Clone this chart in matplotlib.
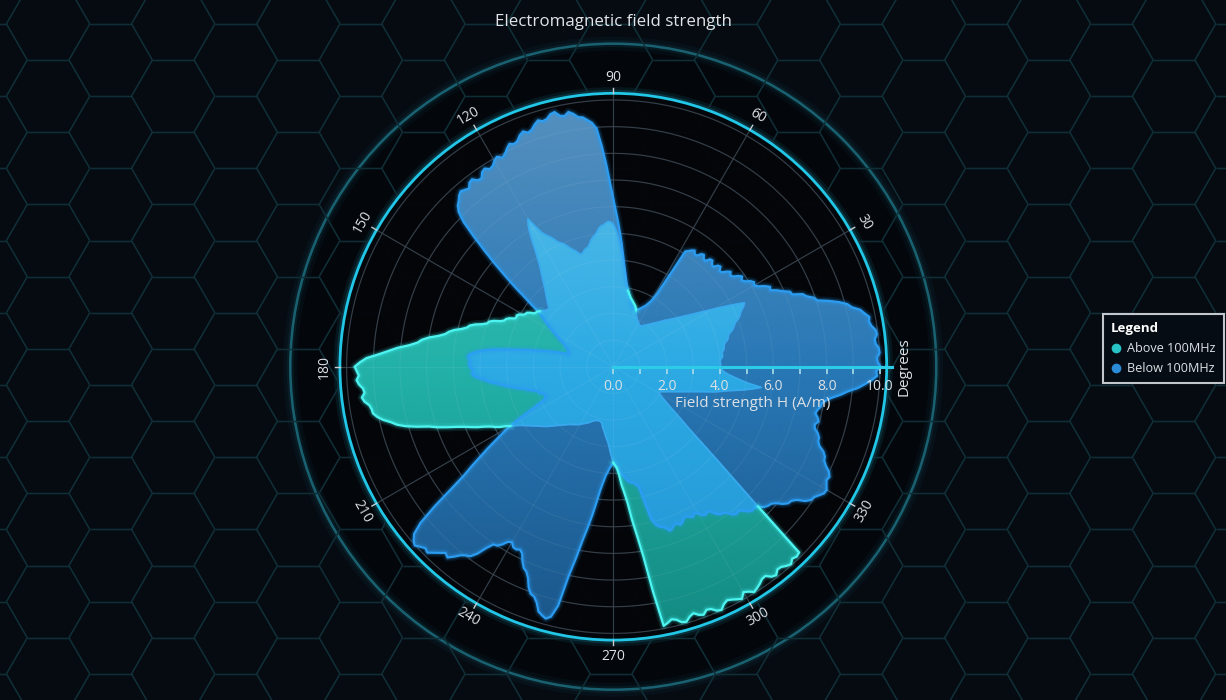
import numpy as np
import matplotlib
matplotlib.use("Agg")
import matplotlib.pyplot as plt
from matplotlib.colors import LinearSegmentedColormap
from matplotlib.collections import LineCollection
from matplotlib.lines import Line2D
from matplotlib.patches import Circle

plt.rcParams['font.family'] = ['Open Sans', 'DejaVu Sans']

# ---------------- data ----------------
TITLE = "Electromagnetic field strength"
SERIES_NAMES = ["Above 100MHz", "Below 100MHz"]
ANGLES_DEG = list(range(0, 360, 1))

ABOVE = [
    4.0, 4.03, 4.02, 4.01, 4.04, 4.1, 4.12, 4.11, 4.14, 4.2,                # 0
    4.22, 4.23, 4.28, 4.38, 4.44, 4.46, 4.53, 4.66, 4.74, 4.8,              # 10
    4.88, 5.02, 5.12, 5.18, 5.28, 5.4, 5.47, 5.15, 4.87, 4.58,              # 20
    4.31, 4.06, 3.85, 3.66, 3.5, 3.34, 3.2, 3.07, 2.95, 2.85,               # 30
    2.75, 2.67, 2.6, 2.51, 2.43, 2.36, 2.29, 2.23, 2.17, 2.12,              # 40
    2.07, 2.02, 1.98, 1.94, 1.9, 1.87, 1.84, 1.84, 1.85, 1.87,              # 50
    1.9, 1.92, 1.95, 1.98, 2.02, 2.07, 2.12, 2.2, 2.28, 2.35,               # 60
    2.42, 2.46, 2.5, 2.54, 2.58, 2.63, 2.68, 2.75, 2.82, 2.9,               # 70
    2.98, 3.12, 3.3, 3.52, 3.75, 4.02, 4.3, 4.6, 4.9, 5.14,                 # 80
    5.35, 5.42, 5.45, 5.4, 5.33, 5.3, 5.22, 5.08, 4.98, 4.92,               # 90
    4.82, 4.68, 4.58, 4.55, 4.5, 4.42, 4.38, 4.45, 4.56, 4.64,              # 100
    4.74, 4.86, 4.97, 5.04, 5.13, 5.28, 5.42, 5.54, 5.68, 6.0,              # 110
    6.4, 6.2, 5.9, 5.55, 5.2, 4.95, 4.7, 4.52, 4.35, 4.2,                   # 120
    4.05, 3.92, 3.8, 3.7, 3.6, 3.5, 3.42, 3.32, 3.25, 3.27,                 # 130
    3.3, 3.35, 3.4, 3.45, 3.52, 3.54, 3.58, 3.72, 3.82, 3.84,               # 140
    3.9, 4.04, 4.1, 4.08, 4.12, 4.3, 4.4, 4.44, 4.56, 4.8,                  # 150
    4.95, 5.0, 5.16, 5.42, 5.6, 5.68, 5.86, 6.12, 6.3, 6.42,                # 160
    6.66, 7.0, 7.25, 7.4, 7.7, 8.12, 8.45, 8.82, 9.26, 9.5,                 # 170
    9.7, 9.62, 9.55, 9.64, 9.56, 9.42, 9.38, 9.5, 9.42, 9.26,               # 180
    9.2, 9.18, 9.05, 8.86, 8.6, 8.4, 8.1, 7.7, 7.26, 6.98,                  # 190
    6.64, 6.3, 6.02, 5.8, 5.58, 5.32, 5.12, 4.98, 4.82, 4.6,                # 200
    4.45, 4.3, 4.15, 4.05, 3.95, 3.86, 3.78, 3.7, 3.62, 3.55,               # 210
    3.48, 3.42, 3.35, 3.27, 3.2, 3.14, 3.07, 3.0, 2.95, 2.9,                # 220
    2.85, 2.8, 2.75, 2.71, 2.68, 2.65, 2.62, 2.59, 2.56, 2.53,              # 230
    2.5, 2.46, 2.42, 2.39, 2.36, 2.33, 2.3, 2.26, 2.22, 2.19,               # 240
    2.16, 2.14, 2.12, 2.11, 2.1, 2.1, 2.1, 2.12, 2.14, 2.2,                 # 250
    2.3, 2.37, 2.45, 2.55, 2.65, 2.75, 2.85, 3.0, 3.2, 3.4,                 # 260
    3.6, 3.7, 3.8, 4.05, 4.45, 4.75, 5.15, 5.8, 6.4, 7.2,                   # 270
    8.55, 9.9, 9.82, 9.72, 9.78, 9.92, 9.95, 9.8, 9.72, 9.84,               # 280
    9.9, 9.76, 9.8, 9.94, 9.98, 9.82, 9.74, 9.8, 9.88, 9.95,                # 290
    9.76, 9.84, 9.96, 9.9, 9.82, 9.72, 9.7, 9.86, 9.92, 9.78,               # 300
    9.8, 9.9, 9.96, 9.84, 9.9, 9.85, 7.55, 6.25, 5.3, 4.55,                 # 310
    4.0, 3.58, 3.28, 3.0, 2.76, 2.57, 2.42, 2.28, 2.15, 2.06,               # 320
    1.98, 1.98, 2.0, 2.06, 2.14, 2.22, 2.3, 2.4, 2.5, 2.62,                 # 330
    2.74, 2.88, 3.03, 3.2, 3.4, 3.64, 3.9, 4.12, 4.35, 4.65,                # 340
    5.0, 5.3, 5.6, 5.1, 4.8, 4.55, 4.35, 4.2, 4.1, 4.04,                    # 350
]

BELOW = [
    10.02, 9.92, 9.9, 10.0, 9.98, 9.88, 9.86, 9.96, 9.93, 9.8,              # 0
    9.74, 9.78, 9.63, 9.5, 9.22, 9.08, 8.8, 8.45, 8.05, 7.95,               # 10
    7.72, 7.6, 7.24, 7.2, 6.96, 6.78, 6.55, 6.6, 6.44, 6.22,                # 20
    6.1, 6.16, 6.06, 5.88, 5.8, 5.9, 5.79, 5.62, 5.57, 5.66,                # 30
    5.55, 5.4, 5.36, 5.5, 5.46, 5.3, 5.33, 5.45, 5.42, 5.26,                # 40
    5.28, 5.4, 5.36, 5.22, 5.2, 5.32, 5.26, 5.18, 5.1, 3.2,                 # 50
    2.85, 2.72, 2.6, 2.53, 2.47, 2.41, 2.36, 2.34, 2.33, 2.31,              # 60
    2.3, 2.33, 2.36, 2.4, 2.45, 2.52, 2.6, 2.7, 2.8, 2.92,                  # 70
    3.05, 3.2, 3.4, 3.62, 3.9, 4.22, 4.6, 4.98, 5.4, 5.82,                  # 80
    6.3, 6.9, 7.6, 8.3, 8.95, 9.18, 9.3, 9.42, 9.45, 9.6,                   # 90
    9.7, 9.58, 9.62, 9.8, 9.76, 9.62, 9.58, 9.66, 9.55, 9.4,                # 100
    9.34, 9.45, 9.36, 9.2, 9.14, 9.22, 9.1, 8.95, 8.88, 9.0,                # 110
    8.92, 8.78, 8.74, 8.86, 8.8, 8.62, 8.64, 8.8, 8.76, 8.6,                # 120
    8.66, 8.72, 8.64, 8.5, 8.4, 8.2, 7.8, 7.15, 6.5, 5.9,                   # 130
    5.3, 4.75, 4.2, 3.8, 3.4, 3.24, 3.12, 2.96, 2.83, 2.7,                  # 140
    2.57, 2.46, 2.33, 2.26, 2.17, 2.06, 1.98, 1.96, 1.92, 1.83,             # 150
    1.79, 1.8, 1.77, 1.72, 1.74, 2.0, 2.3, 2.6, 2.92, 3.3,                  # 160
    3.68, 4.15, 4.62, 4.95, 5.22, 5.4, 5.47, 5.42, 5.38, 5.42,              # 170
    5.37, 5.3, 5.28, 5.3, 5.22, 5.02, 4.83, 4.68, 4.47, 4.28,               # 180
    4.13, 3.95, 3.77, 3.62, 3.43, 3.35, 3.22, 3.08, 2.98, 2.97,             # 190
    2.92, 2.82, 2.78, 2.8, 2.76, 2.82, 2.95, 3.25, 3.6, 4.05,               # 200
    4.5, 4.85, 5.2, 5.6, 6.0, 6.45, 6.9, 7.6, 8.5, 9.3,                     # 210
    9.75, 9.92, 10.02, 9.9, 9.8, 9.86, 9.7, 9.55, 9.4, 9.48,                # 220
    9.3, 9.1, 8.98, 8.9, 8.66, 8.3, 8.04, 8.0, 7.86, 7.66,                  # 230
    7.6, 7.74, 7.76, 7.7, 7.8, 8.06, 8.26, 8.35, 8.54, 8.86,                # 240
    9.06, 9.12, 9.3, 9.6, 9.7, 9.78, 9.66, 9.2, 8.0, 7.3,                   # 250
    6.6, 6.1, 5.6, 5.1, 4.65, 4.35, 4.1, 3.95, 3.8, 3.7,                    # 260
    3.62, 3.7, 3.8, 3.92, 4.02, 4.1, 4.18, 4.3, 4.37, 4.4,                  # 270
    4.43, 4.52, 4.6, 5.2, 5.9, 6.12, 6.24, 6.28, 6.36, 6.5,                 # 280
    6.46, 6.36, 6.34, 6.44, 6.38, 6.26, 6.24, 6.32, 6.38, 6.28,             # 290
    6.36, 6.5, 6.54, 6.48, 6.56, 6.74, 6.84, 6.86, 6.96, 7.14,              # 300
    7.2, 7.16, 7.26, 7.42, 7.5, 7.48, 7.56, 7.72, 7.8, 7.84,                # 310
    7.96, 8.18, 8.32, 8.36, 8.5, 8.78, 8.94, 8.98, 9.1, 9.22,               # 320
    9.24, 9.14, 9.06, 9.1, 9.0, 8.8, 8.66, 8.62, 8.5, 8.28,                 # 330
    8.18, 8.16, 8.06, 7.9, 7.86, 7.96, 7.9, 7.78, 7.82, 7.92,               # 340
    7.94, 8.08, 8.3, 8.6, 8.85, 9.2, 9.45, 9.7, 9.9, 9.86,                  # 350
]

RADIAL_MAJOR = [0, 2, 4, 6, 8, 10]
RADIAL_MAJOR_LABELS = ["0.0", "2.0", "4.0", "6.0", "8.0", "10.0"]
RADIAL_MINOR = [1, 3, 5, 7, 9]
RADIAL_GRID = [1, 2, 3, 4, 5, 6, 7, 8, 9, 10]
ANGLE_TICKS = [30, 60, 90, 120, 150, 180, 210, 240, 270, 300, 330]
ANGLE_GRID = [0, 30, 60, 90, 120, 150, 180, 210, 240, 270, 300, 330]
RADIAL_TITLE = "Field strength H (A/m)"
ANGULAR_TITLE = "Degrees"

# ---------------- layout ----------------
W, H = 1226, 700
CX, CY = 613.3, 366.7
PX_PER_UNIT = 26.67
RMAX = 10.25
RPX = RMAX * PX_PER_UNIT

TXT = '#dde1e5'

fig = plt.figure(figsize=(W / 100, H / 100), dpi=100)
fig.patch.set_facecolor('#060b12')

# background with hexagons
bg = fig.add_axes([0, 0, 1, 1])
bg.set_xlim(0, W)
bg.set_ylim(H, 0)
bg.axis('off')
s = 41.7
hh = s * np.sqrt(3)
segs = []
for i in range(-6, 21):
    cx = 298.3 + i * 1.5 * s
    for j in range(-3, 12):
        cy = 96.1 + j * hh + (hh / 2 if i % 2 else 0)
        pts = [(cx + s * np.cos(np.radians(a)), cy + s * np.sin(np.radians(a)))
               for a in range(0, 361, 60)]
        for k in range(6):
            segs.append([pts[k], pts[k + 1]])
bg.add_collection(LineCollection(segs, colors=[(0.065, 0.19, 0.22)], linewidths=1.0, alpha=0.8))
bg.add_patch(Circle((CX, CY), 323, facecolor=(0.01, 0.022, 0.04), alpha=0.75, edgecolor='none'))
for lw, al in [(10, 0.05), (5, 0.10)]:
    bg.add_patch(Circle((CX, CY), 323, fill=False, edgecolor='#1f8da0', lw=lw, alpha=al))
bg.add_patch(Circle((CX, CY), 323, fill=False, edgecolor='#1b6676', lw=1.8, alpha=0.95))
for lw, al in [(9, 0.08), (5, 0.15)]:
    bg.add_patch(Circle((CX, CY), RPX, fill=False, edgecolor='#22c8e8', lw=lw, alpha=al))

# polar axes
rect = [(CX - RPX) / W, (H - CY - RPX) / H, 2 * RPX / W, 2 * RPX / H]
ax = fig.add_axes(rect, projection='polar')
ax.set_facecolor((0.01, 0.02, 0.035, 0.93))
ax.grid(False)
ax.set_xticks([])
ax.set_yticks([])
ax.spines['polar'].set_color('#22c6e6')
ax.spines['polar'].set_linewidth(2.0)

theta = np.deg2rad(np.array(ANGLES_DEG, dtype=float))
A = np.array(ABOVE, dtype=float)
B = np.array(BELOW, dtype=float)
S = np.minimum(A, B)

th_fine = np.linspace(0, 2 * np.pi, 721)
for r in RADIAL_GRID:
    ax.plot(th_fine, np.full_like(th_fine, r), color='#28323c', lw=0.9, zorder=1)
for a in ANGLE_GRID:
    ax.plot([np.radians(a)] * 2, [0, RMAX], color='#28323c', lw=0.9, zorder=1)

th_g = np.linspace(0, 2 * np.pi, 241)
r_g = np.linspace(0, 10.4, 70)
TH, RR = np.meshgrid(th_g, r_g)
YY = RR * np.sin(TH)

cmapB = LinearSegmentedColormap.from_list('b', [(0, '#1a5689'), (0.5, '#2878b6'), (1, '#5690be')])
cmapA = LinearSegmentedColormap.from_list('a', [(0, '#138a82'), (0.5, '#22b1a8'), (1, '#46c4bb')])
cmapS = LinearSegmentedColormap.from_list('s', [(0, '#2293d2'), (0.5, '#2caae4'), (1, '#5fc0e8')])


def grad_fill(r, cmap, z):
    poly = ax.fill(theta, r, facecolor='none', edgecolor='none', zorder=z)[0]
    mesh = ax.pcolormesh(TH, RR, YY, cmap=cmap, vmin=-10, vmax=10,
                         shading='gouraud', zorder=z)
    mesh.set_clip_path(poly)


grad_fill(B, cmapB, 2)
grad_fill(A, cmapA, 3)
grad_fill(S, cmapS, 4)

for r in RADIAL_GRID:
    ax.plot(th_fine, np.full_like(th_fine, r), color='white', lw=0.8, alpha=0.06, zorder=5)
for a in ANGLE_GRID:
    ax.plot([np.radians(a)] * 2, [0, RMAX], color='white', lw=0.8, alpha=0.06, zorder=5)


def closed(v):
    return np.append(v, v[0])


thc = closed(theta)
for lw, al in [(6, 0.10), (3.5, 0.22)]:
    ax.plot(thc, closed(B), color='#2a9df4', lw=lw, alpha=al, zorder=6, solid_joinstyle='round')
ax.plot(thc, closed(B), color='#2b9ef4', lw=1.5, zorder=7)

outer = A >= B
outer_pts = outer | np.roll(outer, 1) | np.roll(outer, -1)
inner_pts = (~outer) | np.roll(~outer, 1) | np.roll(~outer, -1)
A_out = closed(np.where(outer_pts, A, np.nan))
A_in = closed(np.where(inner_pts, A, np.nan))
ax.plot(thc, A_in, color='#3aaaf0', lw=1.3, alpha=0.95, zorder=7)
for lw, al in [(6, 0.10), (3.5, 0.22)]:
    ax.plot(thc, A_out, color='#3ff0ee', lw=lw, alpha=al, zorder=8)
ax.plot(thc, A_out, color='#4ef5f0', lw=1.6, zorder=9)

ax.set_rlim(0, RMAX)

for deg in ANGLE_TICKS:
    rad = np.radians(deg)
    rot = deg - 90 if deg <= 180 else deg - 270
    ax.plot([rad, rad], [RMAX, RMAX + 0.2], color='#c8ccd0', lw=1.0, clip_on=False, zorder=10)
    ax.text(rad, 10.85, str(deg), rotation=rot, rotation_mode='anchor', ha='center', va='center',
            color=TXT, fontsize=10)
ax.text(0, 10.9, ANGULAR_TITLE, rotation=90, rotation_mode='anchor', ha='center', va='center',
        color=TXT, fontsize=11)

# radial axis overlay
rlen = 10.45
ax2 = fig.add_axes([CX / W, (H - CY) / H, rlen * PX_PER_UNIT / W, 0.0001])
ax2.set_zorder(5)
ax2.patch.set_alpha(0)
ax2.set_xlim(0, rlen)
for sp in ['top', 'left', 'right']:
    ax2.spines[sp].set_visible(False)
ax2.spines['bottom'].set_color('#2ccbe8')
ax2.spines['bottom'].set_linewidth(2.2)
ax2.set_yticks([])
ax2.set_xticks(RADIAL_MAJOR)
ax2.set_xticklabels(RADIAL_MAJOR_LABELS)
ax2.set_xticks(RADIAL_MINOR, minor=True)
ax2.tick_params(which='both', direction='out', length=5, width=1.2, color='#a8dcea',
                labelcolor=TXT, labelsize=10, pad=4)
ax2.set_xlabel(RADIAL_TITLE, color=TXT, fontsize=11, labelpad=1)

fig.text(CX / W, 1 - 22 / H, TITLE, ha='center', va='center', color='#e2e5e8', fontsize=12.2)

handles = [Line2D([], [], marker='o', ls='none', markersize=7, markerfacecolor='#27c3c6',
                  markeredgecolor='none'),
           Line2D([], [], marker='o', ls='none', markersize=7, markerfacecolor='#2a8bd6',
                  markeredgecolor='none')]
leg = fig.legend(handles, SERIES_NAMES, loc='upper left', bbox_to_anchor=(1103 / W, 1 - 314 / H),
                 bbox_transform=fig.transFigure, borderaxespad=0, title='Legend', alignment='left',
                 frameon=True, fancybox=False, facecolor='#060c14', edgecolor='#c3c7cb',
                 framealpha=1, fontsize=9.1, labelcolor=TXT, handlelength=0.8,
                 handletextpad=0.45, borderpad=0.65, labelspacing=0.55,
                 title_fontproperties={'weight': 'bold', 'size': 9.5})
leg.get_title().set_color('white')
leg.get_frame().set_linewidth(1.5)

fig.savefig('out.png', dpi=100, facecolor=fig.get_facecolor())
